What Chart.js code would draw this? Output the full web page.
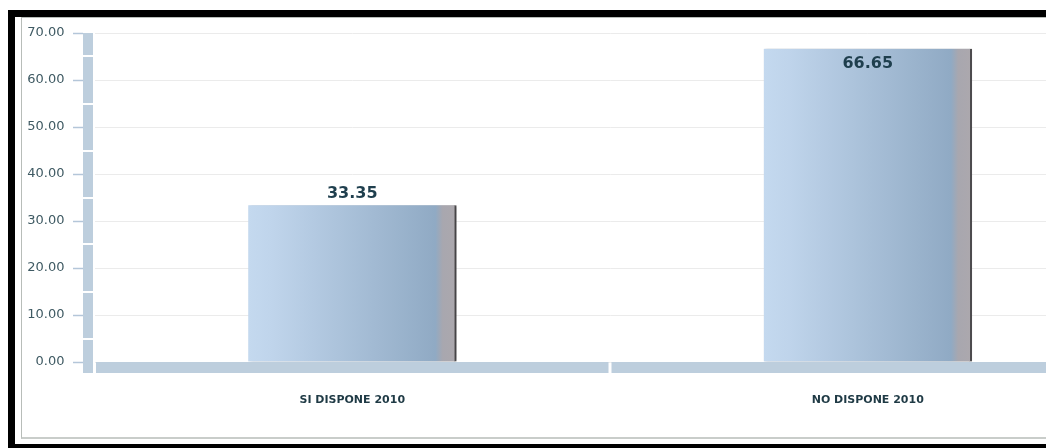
<!DOCTYPE html>
<html>
<head>
<meta charset="utf-8">
<script src="https://cdn.jsdelivr.net/npm/chart.js@4/dist/chart.umd.min.js"></script>
<style>
  html, body { margin: 0; padding: 0; background: #fff; overflow: hidden; width: 1046px; height: 448px; }
  .frame { position: absolute; left: 8px; top: 10px; width: 1100px; height: 500px; border-left: 7px solid #000; border-top: 7px solid #000; }
  .frame-bottom { position: absolute; left: 8px; top: 444px; width: 1100px; height: 10px; background: #000; }
  .panel { position: absolute; left: 21px; top: 17px; width: 1100px; height: 419px; border-left: 1px solid #b8bdb9; border-top: 1px solid #b8bdb9; border-bottom: 2px solid #c9cdca; }
  #wrap { position: absolute; left: 0; top: 0; width: 1200px; height: 448px; z-index: 2; }
</style>
</head>
<body>
<div class="frame"></div>
<div class="frame-bottom"></div>
<div class="panel"></div>
<div id="wrap"><canvas id="bars" width="1200" height="448"></canvas></div>
<script>
const categories = ["SI DISPONE 2010", "NO DISPONE 2010"];
const values = [33.35, 66.65];
const yTicks = [0, 10, 20, 30, 40, 50, 60, 70];

const WALL = "#bdcedd";
const BAR_W = 208;

// horizontal shading across each column
function barFill(ctx) {
  const xs = ctx.chart.scales.x;
  if (ctx.type !== "data" || !xs) return "#a9c1da";
  const cx = xs.getPixelForValue(ctx.dataIndex);
  if (!Number.isFinite(cx)) return "#a9c1da";
  const g = ctx.chart.ctx.createLinearGradient(cx - BAR_W / 2, 0, cx + BAR_W / 2, 0);
  g.addColorStop(0, "#c4d9ef");
  g.addColorStop(0.12, "#bfd4eb");
  g.addColorStop(0.9, "#90aac4");
  g.addColorStop(0.935, "#a8a7af");
  g.addColorStop(1, "#aca8ad");
  return g;
}

const barShadow = {
  id: "barShadow",
  beforeDatasetDraw(chart) {
    const c = chart.ctx;
    c.save();
    c.shadowColor = "rgba(0,0,0,0.35)";
    c.shadowBlur = 3;
    c.shadowOffsetX = 2;
    c.shadowOffsetY = 0;
  },
  afterDatasetDraw(chart) {
    chart.ctx.restore();
  }
};

// the 3d-ish wall on the value axis, its tick marks and the floor under the columns
const axisWall = {
  id: "axisWall",
  beforeDatasetsDraw(chart) {
    const c = chart.ctx, a = chart.chartArea, ys = chart.scales.y, xs = chart.scales.x;
    const depth = 11;
    c.save();
    const wx = a.left - 11.5, ww = 10;

    c.strokeStyle = "#b4c6d9";
    c.lineWidth = 1.5;
    yTicks.forEach((v) => {
      const y = Math.round(ys.getPixelForValue(v)) + 0.5;
      c.beginPath();
      c.moveTo(wx - 10, y);
      c.lineTo(wx, y);
      c.stroke();
    });

    const top = ys.getPixelForValue(yTicks[yTicks.length - 1]);
    c.fillStyle = WALL;
    c.fillRect(wx, top, ww, a.bottom + depth - top);
    c.fillStyle = "#fff";
    for (let i = 0; i < yTicks.length - 1; i++) {
      const m = ys.getPixelForValue((yTicks[i] + yTicks[i + 1]) / 2);
      c.fillRect(wx, Math.round(m) - 1, ww, 2);
    }

    const step = xs.width / categories.length;
    c.fillStyle = WALL;
    categories.forEach((_, i) => {
      const x0 = a.left + step * i + 1.5;
      const x1 = a.left + step * (i + 1) - 1.5;
      c.fillRect(x0, a.bottom, x1 - x0, depth);
    });
    c.restore();
  }
};

const valueLabels = {
  id: "valueLabels",
  afterDatasetsDraw(chart) {
    const c = chart.ctx;
    const meta = chart.getDatasetMeta(0);
    c.save();
    c.font = 'bold 16px "DejaVu Sans"';
    c.fillStyle = "#1f3f4e";
    c.textAlign = "center";
    c.textBaseline = "alphabetic";
    meta.data.forEach((bar, i) => {
      const room = bar.y - chart.chartArea.top;
      const y = room > 26 ? bar.y - 7 : bar.y + 19;
      c.fillText(values[i].toFixed(2), bar.x, y);
    });
    c.restore();
  }
};

new Chart(document.getElementById("bars").getContext("2d"), {
  type: "bar",
  data: {
    labels: categories,
    datasets: [{
      data: values,
      backgroundColor: barFill,
      borderColor: "#5d5b5e",
      borderWidth: { top: 0, left: 0, bottom: 0, right: 2 },
      borderSkipped: false,
      barThickness: BAR_W
    }]
  },
  options: {
    responsive: false,
    animation: false,
    layout: { padding: { top: 33, right: 74.5, left: 0, bottom: 0 } },
    plugins: { legend: { display: false }, tooltip: { enabled: false } },
    scales: {
      x: {
        grid: { display: false },
        border: { display: false },
        ticks: {
          color: "#1f3a45",
          font: { family: "DejaVu Sans", size: 11, weight: "bold" },
          padding: 24,
          maxRotation: 0
        },
        afterFit(scale) { scale.height = 86; }
      },
      y: {
        min: yTicks[0],
        max: yTicks[yTicks.length - 1],
        border: { display: false },
        grid: { color: "#ebebeb", drawTicks: true, tickLength: 22, tickColor: "rgba(0,0,0,0)" },
        ticks: {
          stepSize: yTicks[1] - yTicks[0],
          color: "#3f5a63",
          padding: 8,
          font: { family: "DejaVu Sans", size: 13 },
          callback: (v) => Number(v).toFixed(2)
        },
        afterFit(scale) { scale.width = 94.5; }
      }
    }
  },
  plugins: [axisWall, barShadow, valueLabels]
});
</script>
</body>
</html>
